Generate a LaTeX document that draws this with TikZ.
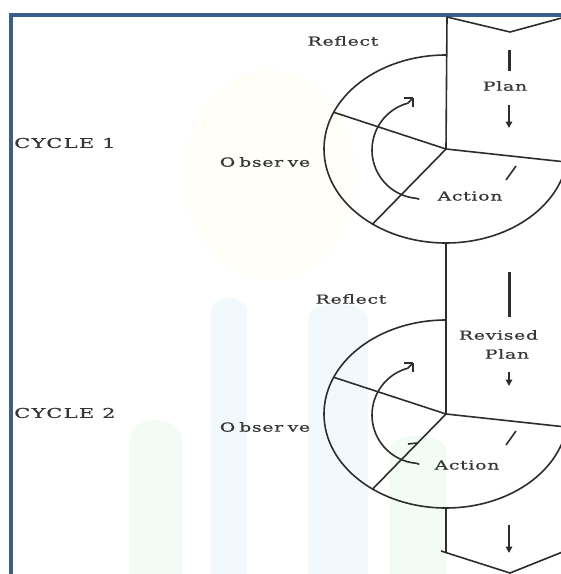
\documentclass[tikz,border=0pt]{standalone}
\usepackage{fontspec}
\newfontfamily\lblfont[FakeStretch=1.5,LetterSpace=6,FakeBold=0.8]{DejaVu Serif}
\newfontfamily\cycfont[FakeStretch=1.55,LetterSpace=10,FakeBold=0.8]{DejaVu Serif}
\usetikzlibrary{arrows.meta}
\definecolor{frameblue}{RGB}{59,95,140}
\definecolor{ink}{RGB}{45,45,45}
\definecolor{textink}{RGB}{55,55,55}
\definecolor{paleblue}{RGB}{242,249,253}
\definecolor{palegreen}{RGB}{243,251,245}
\definecolor{paleyellow}{RGB}{255,254,247}
\tikzset{
  line/.style={draw=ink,line width=1.6pt},
  lbl/.style={font=\lblfont\fontsize{12.5}{15}\selectfont,text=textink,inner sep=0pt},
  cyc/.style={font=\cycfont\fontsize{13.5}{16}\selectfont,text=textink,inner sep=0pt,anchor=west},
  bar/.style={draw=ink,line width=3pt},
  flow/.style={draw=ink,line width=2pt,-{Triangle[width=6.5pt,length=6.5pt]}},
  % one wheel of the cycle: origin at the hub where the sectors meet
  wheel/.pic={
    \coordinate (-top) at (0,-94);
    \coordinate (-bot) at (0,94);
    \draw[line] (-top) arc[start angle=-90,end angle=-352,x radius=122,y radius=94];
    \draw[line] (0,0) -- ({122*cos(-157)},{94*sin(-157)});
    \draw[line] (0,0) -- ({122*cos(127)},{94*sin(127)});
    \draw[line] (0,0) -- ({122*cos(8)},{94*sin(8)});
    % turning arrow
    \draw[line] ({-25.5+48.5*cos(95)+3},{1+48.5*sin(95)+1}) -- ({-25.5+48.5*cos(95)},{1+48.5*sin(95)})
      arc[start angle=95,end angle=255,radius=48.5] -- ++(5,-5) coordinate (-tip);
    \draw[line] (-tip) -- ++(-8.5,0);
    \draw[line] (-tip) -- ++(0,8.5);
    % small stroke in the action sector
    \draw[line] (60,31) -- (70,17);
  }
}
\begin{document}
\begin{tikzpicture}[x=1pt,y=-1pt]
\useasboundingbox (0,0) rectangle (561,574);
\clip (0,0) rectangle (561,574);
\fill[white] (0,0) rectangle (561,574);

% faint background emblem
\fill[paleyellow] (270,175) ellipse[x radius=85,y radius=105];
\fill[paleblue] (211,600) -- (211,310) arc[start angle=180,end angle=360,x radius=18,y radius=12] -- (247,600) -- cycle;
\fill[paleblue] (308,600) -- (308,318) arc[start angle=180,end angle=360,x radius=30,y radius=14] -- (368,600) -- cycle;
\fill[palegreen] (129,600) -- (129,440) arc[start angle=180,end angle=360,x radius=26.5,y radius=20] -- (182,600) -- cycle;
\fill[palegreen] (390,600) -- (390,450) arc[start angle=180,end angle=360,x radius=28,y radius=14] -- (446,600) -- cycle;

% frame
\draw[frameblue,line width=4.5pt] (11,620) -- (11,15) -- (620,15);

% hubs of the two wheels
\coordinate (j1) at (446,149);
\coordinate (j2) at (446,414);
\pic (w1) at (j1) {wheel};
\pic (w2) at (j2) {wheel};

% the plan column
\coordinate (topL) at (447,17);
\coordinate (topM) at (510,32);
\coordinate (topR) at (580,13);
\coordinate (botL) at (446,553);
\coordinate (botA) at (441,551);
\coordinate (botM) at (510,573);
\coordinate (botR) at (580,545);
\draw[line] (topL) -- (topM) -- (topR);
\draw[line] (topL) -- (j1);
\draw[line] (w1-bot) -- (j2);
\draw[line] (w2-bot) -- (botL);
\draw[line] (botA) -- (botM) -- (botR);
\draw[line] (408,444) -- (417,443);

% labels
\node[lbl] (reflect1) at (343,41) {Reflect};
\node[lbl] (reflect2) at (351,299) {Reflect};
\node[cyc] (cycle1) at (14,143) {CYCLE 1};
\node[cyc] (cycle2) at (14,413) {CYCLE 2};
\node[lbl] (observe1) at (265,162) {O\hspace{4pt}bser\hspace{4.5pt}ve};
\node[lbl] (observe2) at (265,427) {O\hspace{4pt}bser\hspace{4.5pt}ve};
\node[lbl] (action1) at (470,196) {Action};
\node[lbl] (action2) at (467,465) {Action};
\node[lbl] (plan1) at (505,86) {Plan};
\node[lbl] (revised) at (498.5,335) {Revised};
\node[lbl] (plan2) at (507,354) {Plan};

% downward flow through the column
\coordinate (f1a) at (509,50);  \coordinate (f1b) at (509,71);
\coordinate (f2a) at (509,105); \coordinate (f2b) at (509,128);
\coordinate (f3a) at (509,272); \coordinate (f3b) at (509,317);
\coordinate (f4a) at (509,372); \coordinate (f4b) at (509,386);
\coordinate (f5a) at (509,525); \coordinate (f5b) at (509,553);
\draw[bar] (f1a) -- (f1b);
\draw[flow] (f2a) -- (f2b);
\draw[bar] (f3a) -- (f3b);
\draw[flow] (f4a) -- (f4b);
\draw[flow] (f5a) -- (f5b);
\end{tikzpicture}
\end{document}
